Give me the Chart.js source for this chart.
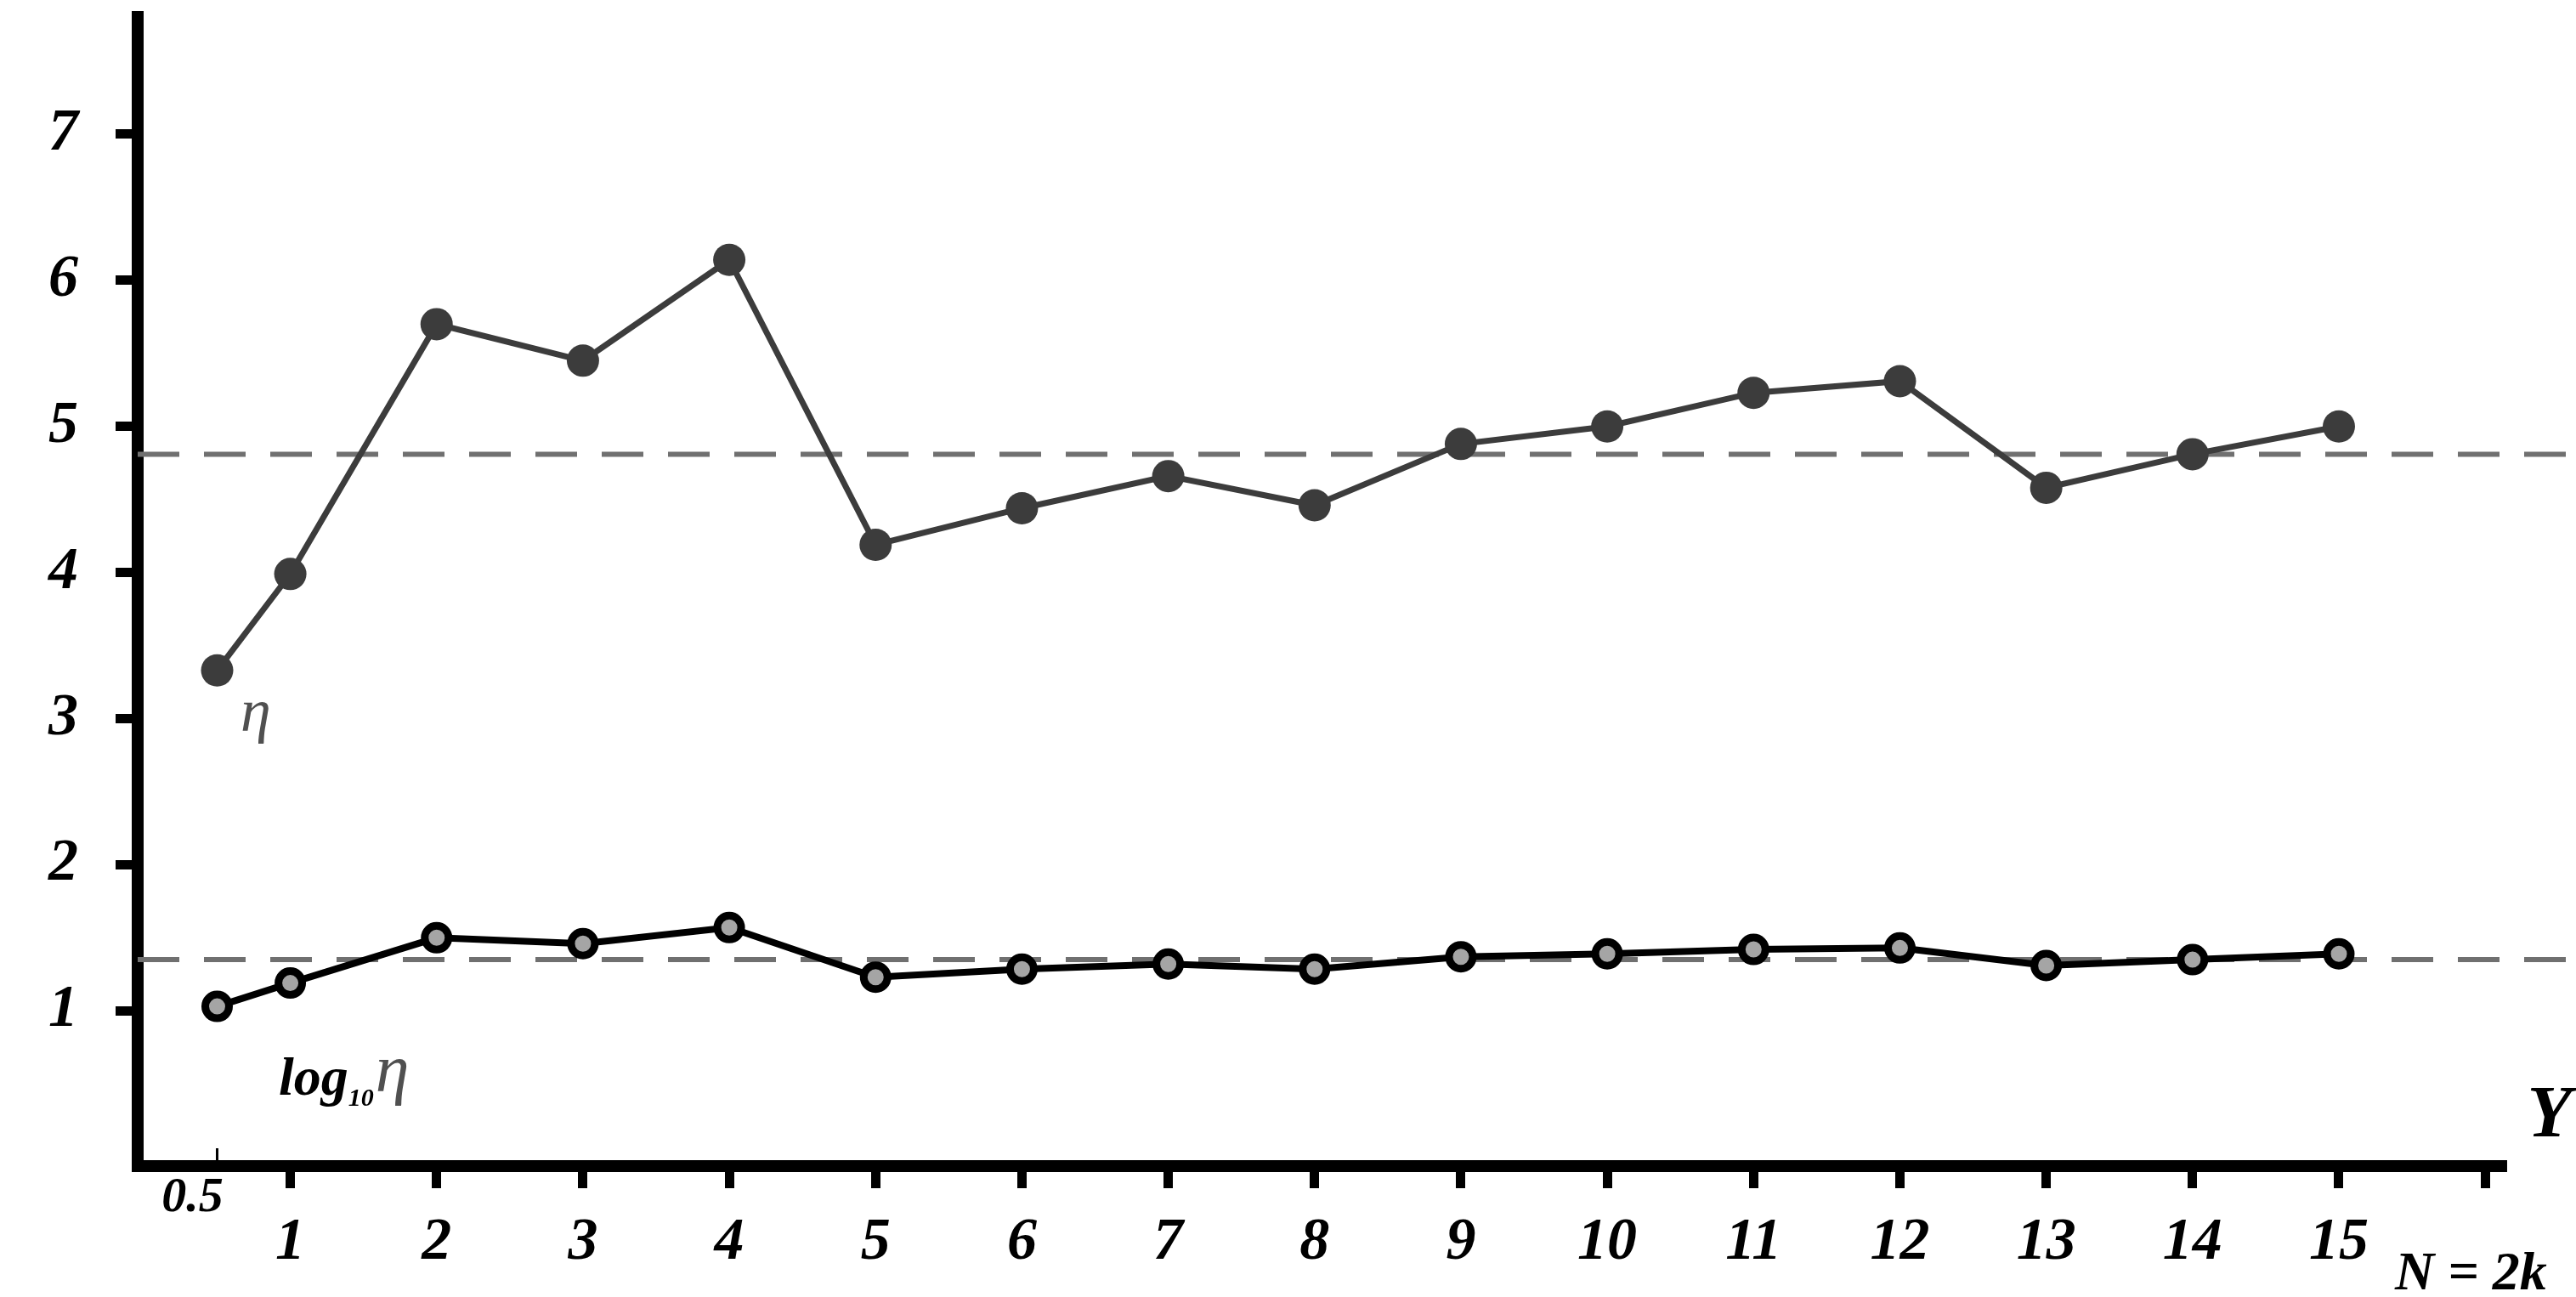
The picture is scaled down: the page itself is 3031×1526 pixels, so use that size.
<!DOCTYPE html>
<html>
<head>
<meta charset="utf-8">
<script src="https://cdn.jsdelivr.net/npm/chart.js@4.4.1/dist/chart.umd.min.js"></script>
<style>
  html, body { margin: 0; padding: 0; background: #fff; }
  #wrap { width: 3031px; height: 1526px; }
</style>
</head>
<body>
<div id="wrap"><canvas id="myChart" width="3031" height="1526"></canvas></div>
<script>
  // values
  let nValues = [0.5, 1, 2, 3, 4, 5, 6, 7, 8, 9, 10, 11, 12, 13, 14, 15];
  let etaValues = [3.33, 3.99, 5.70, 5.45, 6.14, 4.19, 4.44, 4.66, 4.46, 4.88, 5.00, 5.23, 5.31, 4.58, 4.81, 5.00];
  let logEtaValues = [1.03, 1.19, 1.50, 1.46, 1.57, 1.23, 1.285, 1.32, 1.285, 1.37, 1.39, 1.42, 1.43, 1.31, 1.35, 1.39];
  let meanLevels = [4.81, 1.35];

  let xTickValues = [0.5, 1, 2, 3, 4, 5, 6, 7, 8, 9, 10, 11, 12, 13, 14, 15, 16];
  let xTickLabels = ["0.5", "1", "2", "3", "4", "5", "6", "7", "8", "9", "10", "11", "12", "13", "14", "15", ""];
  let yTickValues = [1, 2, 3, 4, 5, 6, 7];

  // axis ranges (chart.js keeps ~23px free at top/right for the end markers)
  let xMin = -0.043, xMax = 16.487, xAxisEnd = 16.15, xDashEnd = 16.62;
  let yMin = -0.063, yMax = 7.785;

  const serif = "'Liberation Serif', 'Times New Roman', serif";

  function pairs(xs, ys) {
    return xs.map((x, i) => ({ x: x, y: ys[i] }));
  }
  function flat(level) {
    return [{ x: xMin, y: level }, { x: xDashEnd, y: level }];
  }

  const extras = {
    id: "extras",
    afterDraw(chart) {
      const ctx = chart.ctx;
      const area = chart.chartArea;
      const xs = chart.scales.x;
      ctx.save();
      ctx.fillStyle = "#000";
      // y axis runs a bit higher than the plot area
      ctx.fillRect(area.left - 7, 13, 14, area.top - 12);
      // x axis line, stops short of the right edge
      let xEnd = xs.getPixelForValue(xAxisEnd);
      ctx.fillRect(area.left - 7, area.bottom - 7, xEnd - area.left + 7, 14);
      // small inner tick at 0.5
      let x05 = xs.getPixelForValue(0.5);
      ctx.fillRect(x05 - 1.5, area.bottom - 21, 3, 15);

      // series labels
      ctx.textBaseline = "alphabetic";
      ctx.textAlign = "left";
      ctx.fillStyle = "#505050";
      ctx.font = "italic 72px " + serif;
      ctx.fillText("\u03b7", 283, 860);

      let x = 328;
      ctx.fillStyle = "#000";
      ctx.font = "italic bold 64px " + serif;
      ctx.fillText("log", x, 1288);
      x += ctx.measureText("log").width;
      ctx.font = "italic bold 30px " + serif;
      ctx.fillText("10", x, 1301);
      x += ctx.measureText("10").width + 2;
      ctx.fillStyle = "#505050";
      ctx.font = "italic 80px " + serif;
      ctx.fillText("\u03b7", x, 1284);

      // axis names
      ctx.fillStyle = "#000";
      ctx.font = "italic bold 86px " + serif;
      ctx.textAlign = "right";
      ctx.fillText("Y", 3026, 1337);
      ctx.textAlign = "left";
      ctx.font = "italic bold 64px " + serif;
      ctx.fillText("N = 2k", 2818, 1517);
      ctx.restore();
    }
  };

  let mychart = document.getElementById("myChart").getContext("2d");
  let chart = new Chart(mychart, {
    type: "line",
    data: {
      datasets: [
        {
          data: pairs(nValues, etaValues),
          borderColor: "#3c3c3c",
          borderWidth: 7,
          pointRadius: 19,
          pointBackgroundColor: "#3c3c3c",
          pointBorderWidth: 0,
          tension: 0,
          order: 1,
        },
        {
          data: pairs(nValues, logEtaValues),
          borderColor: "#000",
          borderWidth: 8,
          pointRadius: 14,
          pointBackgroundColor: "#a5a5a5",
          pointBorderColor: "#000",
          pointBorderWidth: 9,
          tension: 0,
          order: 1,
        },
        {
          data: flat(meanLevels[0]),
          borderColor: "#707070",
          borderWidth: 6,
          borderDash: [49, 29],
          pointRadius: 0,
          clip: false,
          order: 3,
        },
        {
          data: flat(meanLevels[1]),
          borderColor: "#707070",
          borderWidth: 6,
          borderDash: [49, 29],
          pointRadius: 0,
          clip: false,
          order: 3,
        },
      ],
    },
    options: {
      responsive: false,
      animation: false,
      plugins: {
        legend: { display: false },
        tooltip: { enabled: false },
      },
      scales: {
        x: {
          type: "linear",
          min: xMin,
          max: xMax,
          afterBuildTicks: (s) => { s.ticks = xTickValues.map((v) => ({ value: v })); },
          afterFit: (s) => {
            s.height = 154;
            s.paddingLeft = 0;
            s.paddingRight = 0;
          },
          border: { display: false },
          grid: {
            drawOnChartArea: false,
            tickLength: 26,
            tickWidth: 11,
            tickColor: (c) => (c.tick && c.tick.value === 0.5 ? "rgba(0,0,0,0)" : "#000"),
          },
          ticks: {
            autoSkip: false,
            maxRotation: 0,
            minRotation: 0,
            padding: 0,
            color: "#000",
            font: (c) =>
              c.tick && c.tick.value === 0.5
                ? { family: serif, size: 58, style: "italic", weight: "bold", lineHeight: 0.4 }
                : { family: serif, size: 70, style: "italic", weight: "bold", lineHeight: 0.62 },
            // the 0.5 label sits a little left of its tick, as in the original
            callback: (v, i) => (i === 0 ? xTickLabels[i] + "\u2002\u2002" : ["", xTickLabels[i]]),
          },
        },
        y: {
          min: yMin,
          max: yMax,
          afterBuildTicks: (s) => { s.ticks = yTickValues.map((v) => ({ value: v })); },
          afterFit: (s) => {
            s.width = 162;
            s.paddingTop = 0;
            s.paddingBottom = 0;
          },
          border: { display: true, color: "#000", width: 14 },
          grid: {
            drawOnChartArea: false,
            tickLength: 26,
            tickWidth: 11,
            tickColor: "#000",
          },
          ticks: {
            padding: 44,
            color: "#000",
            font: { family: serif, size: 70, style: "italic", weight: "bold" },
          },
        },
      },
    },
    plugins: [extras],
  });
</script>
</body>
</html>
